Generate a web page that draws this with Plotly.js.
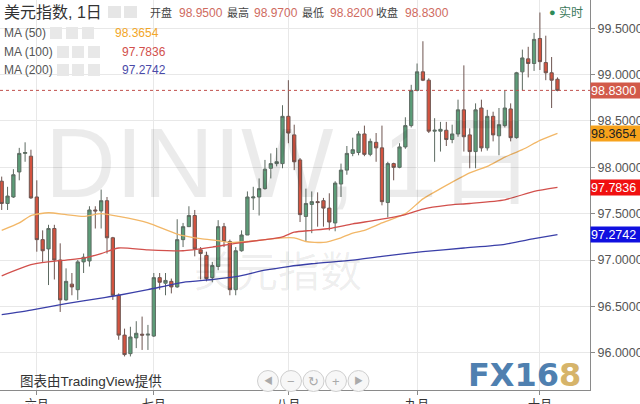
<!DOCTYPE html>
<html><head><meta charset="utf-8">
<script src="https://cdn.plot.ly/plotly-3.0.1.min.js"></script>
<style>html,body{margin:0;padding:0;background:#fff;}#chart{width:640px;height:404px;}</style>
</head><body><div id="chart"></div>
<script>
// ---------- data ----------
const startDate = '2019-05-24';
const openV  = [97.85,97.61,97.68,97.95,98.15,98.12,97.68,97.22,97.12,97.34,97.00,96.57,96.74,96.68,96.98,96.99,97.54,97.53,97.64,97.24,96.62,96.19,95.99,96.16,96.20,96.19,96.18,96.81,96.75,96.77,96.71,97.22,97.36,97.48,97.11,97.05,96.81,96.93,97.36,97.20,96.68,97.10,97.27,97.67,97.68,97.77,97.99,98.04,98.04,98.55,98.35,98.08,97.47,97.60,97.63,97.64,97.56,97.40,97.82,97.97,98.15,98.16,98.36,98.14,98.27,98.21,97.62,98.04,98.00,98.22,98.45,98.83,99.03,98.94,98.39,98.39,98.40,98.30,98.36,98.62,98.35,98.17,98.64,98.21,98.55,98.34,98.45,98.63,98.32,99.03,99.17,99.12,99.39,99.13,99.02,98.95];
const highV  = [97.90,97.79,97.98,98.21,98.27,98.19,97.86,97.32,97.38,97.38,97.18,96.91,96.86,97.00,97.07,97.58,97.58,97.76,97.68,97.25,96.64,96.26,96.28,96.34,96.39,96.30,96.86,96.86,96.86,96.80,97.44,97.40,97.58,97.54,97.14,97.09,96.98,97.43,97.40,97.22,97.14,97.32,97.74,97.79,97.88,98.08,98.15,98.21,98.67,98.94,98.46,98.10,97.77,97.74,97.73,97.67,97.72,97.85,98.04,98.23,98.32,98.39,98.45,98.31,98.37,98.45,98.06,98.05,98.26,98.54,98.89,99.12,99.36,98.96,98.53,98.49,98.49,98.46,98.73,99.10,98.42,98.69,98.73,98.62,98.60,98.64,98.83,98.69,99.03,99.27,99.30,99.45,99.67,99.42,99.19,98.97];
const lowV   = [97.54,97.54,97.67,97.86,98.06,97.66,97.09,96.98,96.73,96.79,96.44,96.56,96.62,96.57,96.86,96.93,97.34,97.34,97.07,96.57,96.14,95.96,95.96,96.05,96.03,96.03,96.17,96.68,96.62,96.64,96.70,97.14,97.36,97.04,96.79,96.77,96.76,96.89,97.14,96.62,96.62,97.09,97.27,97.54,97.48,97.76,97.88,98.01,97.99,98.26,97.97,97.41,97.20,97.29,97.36,97.36,97.32,97.31,97.68,97.92,98.12,98.13,98.12,98.12,98.06,97.59,97.46,97.86,97.99,98.20,98.43,98.82,98.93,98.37,98.06,98.17,98.23,98.26,98.33,98.17,97.99,97.99,98.17,98.18,98.28,98.13,98.43,98.28,98.31,98.83,98.97,99.04,99.05,98.94,98.64,98.82];
const closeV = [97.61,97.69,97.92,98.15,98.16,97.67,97.22,97.10,97.34,97.00,96.57,96.77,96.71,96.98,97.03,97.54,97.53,97.64,97.24,96.62,96.19,95.98,96.17,96.21,96.19,96.20,96.81,96.76,96.78,96.71,97.22,97.36,97.48,97.12,97.07,96.80,96.94,97.36,97.20,96.68,97.10,97.27,97.68,97.68,97.77,97.98,98.04,98.06,98.55,98.37,98.06,97.49,97.61,97.63,97.62,97.56,97.41,97.83,97.97,98.15,98.19,98.36,98.14,98.28,98.21,97.63,98.04,98.00,98.22,98.45,98.83,99.03,98.94,98.39,98.40,98.41,98.30,98.36,98.62,98.33,98.17,98.62,98.21,98.55,98.35,98.46,98.64,98.32,99.02,99.18,99.12,99.38,99.14,99.02,98.94,98.83];

const ma50Idx  = [0,3,5,8,11,14,17,20,25,30,34,37,39,42,45,48,50,52,55,58,60,62,65,69,72,75,80,83,86,89,92,95];
const ma50Val  = [97.32,97.40,97.48,97.51,97.49,97.47,97.50,97.47,97.40,97.28,97.23,97.21,97.19,97.20,97.22,97.24,97.24,97.20,97.19,97.24,97.29,97.32,97.40,97.50,97.66,97.77,97.94,98.01,98.11,98.19,98.29,98.3654];
const ma100Idx = [0,5,8,11,14,17,20,25,31,36,40,45,48,50,53,56,60,64,69,72,76,80,86,91,95];
const ma100Val = [96.83,96.95,96.98,97.00,97.02,97.07,97.13,97.11,97.10,97.14,97.18,97.22,97.25,97.30,97.32,97.34,97.39,97.43,97.49,97.55,97.59,97.61,97.65,97.74,97.7836];
const ma200Idx = [0,5,11,17,20,25,31,36,40,45,49,53,60,65,72,79,86,91,95];
const ma200Val = [96.41,96.46,96.53,96.59,96.62,96.68,96.76,96.79,96.82,96.89,96.93,96.96,97.00,97.04,97.09,97.13,97.17,97.23,97.2742];

const monthTickIdx = [6,26,49,71,92];
const monthLabels  = ['六月','七月','八月','九月','十月'];
const yTicks = [96.0,96.5,97.0,97.5,98.0,98.5,99.0,99.5];
const titleText = '美元指数, 1日';
const symbolText = 'DINIW, 1日';
const ohlcLabels = ['开盘','最高','最低','收盘'];
const maNames = ['MA (50)','MA (100)','MA (200)'];

// ---------- helpers ----------
function tradingDays(start, n){
  const out=[]; const d=new Date(start+'T00:00:00Z');
  while(out.length<n){ const wd=d.getUTCDay(); if(wd!==0&&wd!==6) out.push(d.toISOString().slice(0,10)); d.setUTCDate(d.getUTCDate()+1); }
  return out;
}
const dates = tradingDays(startDate, openV.length);
const PW=590, PH=390;
const px = x => x/PW;
const py = y => 1 - y/PH;
const last = openV.length-1;
const FONT = '"Liberation Sans", "Noto Sans CJK SC", Arial, sans-serif';

const traces = [
  {type:'candlestick', x:dates, open:openV, high:highV, low:lowV, close:closeV,
   increasing:{line:{color:'#5d6b62',width:1}, fillcolor:'#5c9d78'},
   decreasing:{line:{color:'#6e5550',width:1}, fillcolor:'#d4533f'},
   whiskerwidth:0, hoverinfo:'skip'},
  {type:'scatter', mode:'lines', x:ma50Idx.map(i=>dates[i]), y:ma50Val, line:{color:'#f2b767',width:1.3,shape:'spline',smoothing:0.6}, hoverinfo:'skip'},
  {type:'scatter', mode:'lines', x:ma100Idx.map(i=>dates[i]), y:ma100Val, line:{color:'#d2504c',width:1.3,shape:'spline',smoothing:0.6}, hoverinfo:'skip'},
  {type:'scatter', mode:'lines', x:ma200Idx.map(i=>dates[i]), y:ma200Val, line:{color:'#3a3fa8',width:1.3,shape:'spline',smoothing:0.6}, hoverinfo:'skip'}
];

const ann = [];
const shapes = [];
function txt(x,y,text,size,color,anchor,extra){
  ann.push(Object.assign({xref:'paper',yref:'paper',x:px(x),y:py(y),text:text,showarrow:false,
    xanchor:anchor||'left',yanchor:'middle',font:{family:FONT,size:size,color:color}},extra||{}));
}
function rectPx(x0,y0,x1,y1,fill,line){
  shapes.push({type:'rect',xref:'paper',yref:'paper',x0:px(x0),x1:px(x1),y0:py(y0),y1:py(y1),
    fillcolor:fill,line:{color:line||fill,width:line?1:0},layer:'above'});
}
function circPx(cx,cy,r,fill,line){
  shapes.push({type:'circle',xref:'paper',yref:'paper',x0:px(cx-r),x1:px(cx+r),y0:py(cy+r),y1:py(cy-r),
    fillcolor:fill,line:{color:line,width:1},layer:'above'});
}

// watermark
txt(290,163,symbolText,98,'rgba(0,0,0,0.08)','center');
txt(278,272,'美元指数',42,'rgba(0,0,0,0.07)','center');

// header
txt(2,13,titleText,16,'#333');
rectPx(108,6,121,18,'#e6e6e6'); rectPx(124,6,137,18,'#e6e6e6');
const ohlcVals=[openV[last],highV[last],lowV[last],closeV[last]];
const labX=[148,225,300,374], valX=[177,252,328,403];
ohlcLabels.forEach((l,i)=>{ txt(labX[i],13,l,11,'#444'); txt(valX[i],13,ohlcVals[i].toFixed(4),12,'#cf6b5f'); });
txt(552,12,'●',11,'#2e8b57','center');
txt(557,12,'实时',12,'#3d7a5c');

// MA legend
const maLast=[ma50Val[ma50Val.length-1],ma100Val[ma100Val.length-1],ma200Val[ma200Val.length-1]];
const maCol=['#f2a628','#d2504c','#4a4aa8'];
const maY=[33,52,70], maValX=[113,120,120];
const iconX=[[50,66,82],[57,72,88],[57,72,88]];
maNames.forEach((n,i)=>{
  txt(2,maY[i],n,12,'#555');
  iconX[i].forEach(x=>rectPx(x,maY[i]-6,x+12,maY[i]+6,'#e8e8e8'));
  txt(maValX[i],maY[i],maLast[i].toFixed(4),12,maCol[i]);
});

// price tags on axis
const tagVals=[closeV[last],maLast[0],maLast[1],maLast[2]];
const tagBg=['#d25a4a','#f7a21b','#f01010','#1010e0'];
const tagFg=['#fff','#222','#fff','#fff'];
tagVals.forEach((v,i)=>{
  ann.push({xref:'paper',yref:'y',x:1,y:v,text:v.toFixed(4),showarrow:false,xanchor:'left',yanchor:'middle',
    bgcolor:tagBg[i],font:{family:FONT,size:12.5,color:tagFg[i]},borderpad:0,width:49,height:15,align:'left'});
});
shapes.push({type:'line',xref:'paper',x0:0,x1:1,yref:'y',y0:closeV[last],y1:closeV[last],line:{color:'#c0504d',width:1,dash:'dot'}});

// bottom credits & nav
txt(18,381,'图表由TradingView提供',13.5,'#333');
const navX=[268,291,313.5,336,358.5], navG=['◀','−','↻','+','▶'];
navX.forEach((x,i)=>{ circPx(x,381,10.5,'#f7f7f7','#cfcfcf'); txt(x,381,navG[i],i===0||i===4?9:13,'#aaa','center'); });
txt(524,375,'<b>FX16</b><b><span style="color:#d6b46a">8</span></b>',32,'#4f80b0','center',{font:{family:'"DejaVu Sans", sans-serif',size:32,color:'#4f80b0'}});

const layout = {
  width:640, height:404, margin:{l:0,r:50,t:0,b:14,pad:0},
  paper_bgcolor:'#fff', plot_bgcolor:'#fff', showlegend:false, boxgap:0.2,
  font:{family:FONT,size:12,color:'#555'},
  xaxis:{type:'category', range:[-0.29,100.56], tickmode:'array', tickvals:monthTickIdx.map(i=>dates[i]), ticktext:monthLabels,
    showgrid:true, gridcolor:'#e8e8e8', showline:true, linecolor:'#8a8a8a', ticks:'outside', ticklen:4, tickcolor:'#8a8a8a',
    tickfont:{size:12,color:'#333'}, rangeslider:{visible:false}, zeroline:false, fixedrange:true},
  yaxis:{side:'right', range:[95.598,99.805], tickmode:'array', tickvals:yTicks, tickformat:'.4f',
    showgrid:true, gridcolor:'#e8e8e8', showline:true, linecolor:'#8a8a8a', ticks:'outside', ticklen:4, tickcolor:'#8a8a8a',
    tickfont:{size:12.5,color:'#555'}, zeroline:false, fixedrange:true},
  annotations:ann, shapes:shapes
};
Plotly.newPlot('chart', traces, layout, {displayModeBar:false, staticPlot:true});
</script></body></html>
